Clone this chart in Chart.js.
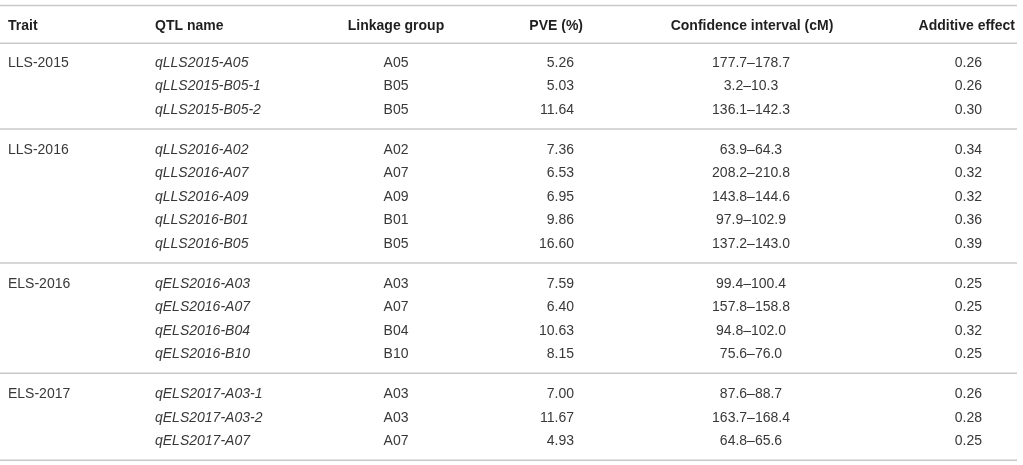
<!DOCTYPE html>
<html>
<head>
<meta charset="utf-8">
<script src="https://cdn.jsdelivr.net/npm/chart.js@4/dist/chart.umd.min.js"></script>
<style>
html,body{margin:0;padding:0;background:#fff;}
#wrap{width:1023px;height:465px;position:relative;}
</style>
</head>
<body>
<div id="wrap"><canvas id="c"></canvas></div>
<script>
// ---- data ----
const headers = ['Trait', 'QTL name', 'Linkage group', 'PVE (%)', 'Confidence interval (cM)', 'Additive effect'];
const traits = ['LLS-2015', 'LLS-2016', 'ELS-2016', 'ELS-2017'];
const qtlTrait = [0, 0, 0, 1, 1, 1, 1, 1, 2, 2, 2, 2, 3, 3, 3];
const qtlNames = ['qLLS2015-A05', 'qLLS2015-B05-1', 'qLLS2015-B05-2',
  'qLLS2016-A02', 'qLLS2016-A07', 'qLLS2016-A09', 'qLLS2016-B01', 'qLLS2016-B05',
  'qELS2016-A03', 'qELS2016-A07', 'qELS2016-B04', 'qELS2016-B10',
  'qELS2017-A03-1', 'qELS2017-A03-2', 'qELS2017-A07'];
const linkageGroups = ['A05', 'B05', 'B05', 'A02', 'A07', 'A09', 'B01', 'B05',
  'A03', 'A07', 'B04', 'B10', 'A03', 'A03', 'A07'];
const pve = [5.26, 5.03, 11.64, 7.36, 6.53, 6.95, 9.86, 16.60, 7.59, 6.40, 10.63, 8.15, 7.00, 11.67, 4.93];
const ciLow = [177.7, 3.2, 136.1, 63.9, 208.2, 143.8, 97.9, 137.2, 99.4, 157.8, 94.8, 75.6, 87.6, 163.7, 64.8];
const ciHigh = [178.7, 10.3, 142.3, 64.3, 210.8, 144.6, 102.9, 143.0, 100.4, 158.8, 102.0, 76.0, 88.7, 168.4, 65.6];
const additive = [0.26, 0.26, 0.30, 0.34, 0.32, 0.32, 0.36, 0.39, 0.25, 0.25, 0.32, 0.25, 0.26, 0.28, 0.25];

// ---- layout (positions / styles) ----
const GROUP_GAP = 0.7;          // extra row units between trait groups
const HEADER_POS = -1.57;
const TOP_LINE = -2.4;
const HEADER_LINE = -0.8;
const LINE_X0 = 0, LINE_X1 = 1017;
const cols = [
  {hx: 8,    ha: 'left',   dx: 8,   da: 'left'},
  {hx: 155,  ha: 'left',   dx: 155, da: 'left', italic: true},
  {hx: 396,  ha: 'center', dx: 396, da: 'center'},
  {hx: 583,  ha: 'right',  dx: 574, da: 'right'},
  {hx: 752,  ha: 'center', dx: 751, da: 'center'},
  {hx: 1015, ha: 'right',  dx: 982, da: 'right'}
];
const FONT = '"Liberation Sans", Arial, Helvetica, sans-serif';
const TEXT_COLOR = '#383838';
const HEAD_COLOR = '#1f1f1f';
const RULE_COLOR = '#c8c8c8';

// row position of each QTL (index-derived)
const rowPos = qtlTrait.map((g, i) => i + g * GROUP_GAP);
const lastPos = rowPos[rowPos.length - 1];
const sepPos = [];
for (let i = 1; i < qtlTrait.length; i++) {
  if (qtlTrait[i] !== qtlTrait[i - 1]) sepPos.push((rowPos[i - 1] + rowPos[i]) / 2);
}
const rules = [TOP_LINE, HEADER_LINE, ...sepPos, lastPos + 0.85];

function cellText(r, c) {
  switch (c) {
    case 0: return (r === 0 || qtlTrait[r] !== qtlTrait[r - 1]) ? traits[qtlTrait[r]] : '';
    case 1: return qtlNames[r];
    case 2: return linkageGroups[r];
    case 3: return pve[r].toFixed(2);
    case 4: return ciLow[r].toFixed(1) + '\u2013' + ciHigh[r].toFixed(1);
    case 5: return additive[r].toFixed(2);
  }
}

// one invisible point per cell; text drawn at the point's scale position
const points = [];
headers.forEach((h, c) => points.push({x: cols[c].hx, y: HEADER_POS, text: h, align: cols[c].ha, head: true}));
qtlNames.forEach((q, r) => {
  cols.forEach((col, c) => {
    const t = cellText(r, c);
    if (t) points.push({x: col.dx, y: rowPos[r], text: t, align: col.da, italic: !!col.italic});
  });
});
const rulePoints = rules.map(v => ({y: v}));

const tablePlugin = {
  id: 'tableText',
  afterDatasetsDraw(chart) {
    const ctx = chart.ctx;
    const xs = chart.scales.x, ys = chart.scales.y;
    ctx.save();
    // rules
    ctx.strokeStyle = RULE_COLOR;
    ctx.lineWidth = 1.5;
    rulePoints.forEach(p => {
      const y = ys.getPixelForValue(p.y);
      ctx.beginPath();
      ctx.moveTo(xs.getPixelForValue(LINE_X0), y);
      ctx.lineTo(xs.getPixelForValue(LINE_X1), y);
      ctx.stroke();
    });
    // texts
    const meta = chart.getDatasetMeta(0);
    ctx.textBaseline = 'middle';
    meta.data.forEach((el, i) => {
      const p = points[i];
      ctx.font = (p.head ? 'bold ' : (p.italic ? 'italic ' : '')) + '14px ' + FONT;
      ctx.fillStyle = p.head ? HEAD_COLOR : TEXT_COLOR;
      ctx.textAlign = p.align;
      ctx.fillText(p.text, el.x, el.y + 1);
    });
    ctx.restore();
  }
};

new Chart(document.getElementById('c'), {
  type: 'scatter',
  data: {datasets: [{data: points, pointRadius: 0, pointHoverRadius: 0}]},
  options: {
    responsive: true,
    maintainAspectRatio: false,
    animation: false,
    events: [],
    layout: {padding: 0},
    plugins: {legend: {display: false}, tooltip: {enabled: false}},
    scales: {
      x: {type: 'linear', min: 0, max: 1023, display: false},
      y: {type: 'linear', min: -2.638, max: 17.149, reverse: true, display: false}
    }
  },
  plugins: [tablePlugin]
});
</script>
</body>
</html>
